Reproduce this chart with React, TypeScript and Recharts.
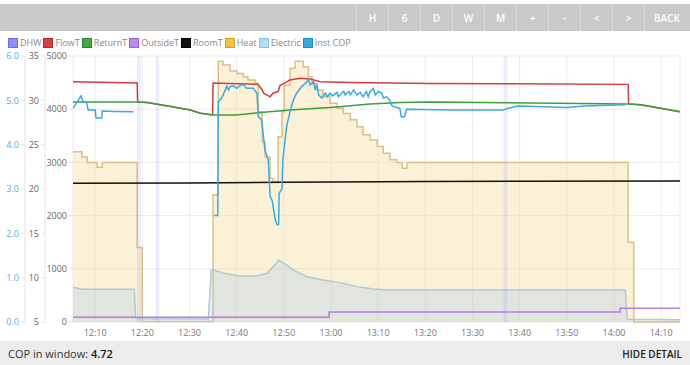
import {
  ComposedChart, Line, Area, XAxis, YAxis, CartesianGrid, ReferenceArea,
} from 'recharts';

// time is minutes after 12:00
const HEAT: [number, number][] = [
  [5.3, 3200], [7.2, 3100], [8.3, 3000], [10.4, 2910], [11.5, 3000], [18.9, 1400], [20.0, 10],
  [35.0, 2390], [36.1, 4900], [37.1, 4830], [38.6, 4720], [40.1, 4670], [41.4, 4610], [42.4, 4550],
  [43.9, 4490], [44.6, 3950], [45.4, 3390], [46.0, 3100], [47.1, 2700], [47.7, 2640], [48.8, 3480],
  [49.6, 3950], [50.1, 4450], [51.3, 4770], [52.4, 4900], [54.1, 4800], [55.2, 4610], [56.0, 4480],
  [57.1, 4360], [58.3, 4240], [59.8, 4110], [61.3, 4020], [62.6, 3920], [64.1, 3800], [65.5, 3670],
  [66.8, 3520], [68.3, 3420], [69.8, 3300], [71.1, 3170], [72.5, 3050], [74.0, 3000], [75.1, 2890],
  [76.1, 3000], [123.0, 1500], [124.2, 0], [134, 0],
];

const ELECTRIC: [number, number][] = [
  [5.3, 650], [7.4, 615], [18.3, 615], [18.6, 75], [20, 60], [34.0, 55], [34.6, 980], [35.4, 975],
  [37.2, 915], [40.7, 865], [44.3, 865], [46.4, 915], [48.0, 1060], [48.9, 1165], [50.6, 1070],
  [52.0, 980], [54.9, 850], [58.4, 790], [61.9, 740], [65.5, 665], [69.0, 620], [72.5, 600],
  [122.4, 600], [122.8, 50], [134, 40],
];

const COP: [number, number | null][] = [
  [5.3, 4.82], [7.0, 5.1], [7.4, 4.97], [8.2, 4.95], [8.5, 4.78], [10.0, 4.78], [10.2, 4.6], [11.4, 4.6],
  [11.5, 4.76], [14, 4.75], [18.1, 4.74], [18.5, null],
  [35.2, 2.4], [36.0, 2.4], [36.1, 4.97], [36.8, 5.05], [37.6, 5.23], [37.9, 5.32], [38.3, 5.23],
  [38.6, 5.31], [39.3, 5.33], [40.0, 5.27], [40.7, 5.33], [41.4, 5.36], [42.1, 5.27], [43.5, 5.27],
  [44.3, 5.16], [44.6, 4.63], [45.3, 4.56], [46.0, 3.88], [46.7, 3.65], [47.1, 2.83], [47.5, 2.75],
  [48.2, 2.3], [48.6, 2.19], [48.9, 2.2], [49.0, 2.9], [49.6, 3.0], [49.8, 3.65], [50.1, 3.95],
  [50.6, 4.41], [51.3, 4.74], [52.0, 5.0], [52.7, 5.16], [53.8, 5.31], [54.9, 5.42], [55.2, 5.47],
  [55.6, 5.35], [56.3, 5.42], [56.7, 5.23], [57.0, 5.35], [57.4, 5.12], [58.1, 5.05], [58.8, 5.16],
  [59.2, 5.08], [59.8, 5.16], [60.3, 5.1], [61.3, 5.18], [61.6, 5.08], [62.4, 5.18], [62.7, 5.2],
  [63.0, 5.12], [63.8, 5.2], [64.1, 5.12], [64.8, 5.23], [65.5, 5.12], [66.2, 5.18], [66.8, 5.08],
  [67.5, 5.2], [67.9, 5.08], [68.3, 5.2], [69.0, 5.27], [69.4, 5.12], [70.1, 5.2], [70.8, 5.16],
  [71.1, 5.05], [71.8, 5.08], [72.5, 5.0], [72.8, 4.9], [73.2, 4.86], [74.6, 4.82], [74.9, 4.63],
  [75.6, 4.63], [76.0, 4.8], [86, 4.78], [96.5, 4.78], [97.5, 4.82], [99.7, 4.87], [110, 4.84],
  [113.6, 4.87], [122.4, 4.9],
];

const FLOW_T: [number, number][] = [
  [5.3, 32.1], [18.9, 31.95], [19.0, 29.8], [21, 29.75], [26, 29.3], [30.2, 28.9], [32.3, 28.55],
  [34.9, 28.35], [35.0, 31.95], [44.5, 31.8], [45.4, 31.2], [45.7, 30.8], [47.1, 30.4], [47.7, 30.8],
  [48.8, 31.0], [49.2, 31.7], [49.9, 31.85], [51.3, 32.3], [53.5, 32.5], [55.6, 32.4], [57.7, 32.1],
  [64.1, 32.0], [81, 31.9], [123, 31.8], [123.1, 29.6], [125.6, 29.5], [129.9, 29.1], [134, 28.7],
];

const RETURN_T: [number, number][] = [
  [5.3, 29.8], [19, 29.8], [21, 29.75], [26, 29.3], [30.2, 28.9], [32.3, 28.55], [35, 28.35],
  [40, 28.35], [44.5, 28.6], [51.3, 28.9], [59.8, 29.2], [68.3, 29.6], [74.6, 29.75], [81, 29.8],
  [123, 29.6], [125.6, 29.5], [129.9, 29.1], [134, 28.7],
];

const ROOM_T: [number, number][] = [[5.3, 20.65], [30, 20.68], [50, 20.75], [80, 20.85], [134, 20.9]];

const OUTSIDE_T: [number, number][] = [[5.3, 5.53], [59.6, 6.13], [121.3, 6.55], [134, 6.55]];

const DHW_RUNS: [number, number][] = [[18.9, 19.7], [22.8, 23.6], [96.6, 97.4]];

const X_TICKS = [10, 20, 30, 40, 50, 60, 70, 80, 90, 100, 110, 120, 130];
const COP_TICKS = [0, 1, 2, 3, 4, 5, 6];
const TEMP_TICKS = [5, 10, 15, 20, 25, 30, 35];
const POWER_TICKS = [0, 1000, 2000, 3000, 4000, 5000];

const BUTTONS = ['H', '6', 'D', 'W', 'M', '+', '-', '<', '>', 'BACK'];

const LEGEND = [
  { name: 'DHW', fill: '#8f8ff5', border: '#6d6de0' },
  { name: 'FlowT', fill: '#d84040', border: '#b02a2a' },
  { name: 'ReturnT', fill: '#44a844', border: '#2e842e' },
  { name: 'OutsideT', fill: '#c08af0', border: '#9a62d0' },
  { name: 'RoomT', fill: '#111111', border: '#000000' },
  { name: 'Heat', fill: '#f2c440', border: '#d0a020' },
  { name: 'Electric', fill: '#b4dcf4', border: '#8cc0e0' },
  { name: 'Inst COP', fill: '#3aa8e0', border: '#2088c0' },
];

const rows = (pairs: [number, number | null][]) => pairs.map(([t, v]) => ({ t, v }));

const fmtTime = (t: number) => {
  const h = 12 + Math.floor(t / 60);
  const m = Math.round(t % 60);
  return `${h}:${m < 10 ? '0' : ''}${m}`;
};

const FONT = '"Open Sans", sans-serif';

export default function App() {
  return (
    <div style={{ position: 'relative', width: 690, height: 365, background: '#fff', fontFamily: FONT, overflow: 'hidden' }}>
      <style>{'body{margin:0}'}</style>

      {/* top button bar */}
      <div style={{ position: 'absolute', top: 4, left: 0, width: 690, height: 27, background: '#c9c9c9' }}>
        <div style={{ position: 'absolute', left: 356, top: 0, display: 'flex', height: 27 }}>
          {BUTTONS.map((b) => (
            <div
              key={b}
              style={{
                width: b === 'BACK' ? 45 : 32, height: 27, borderLeft: '1px solid #dadada', boxSizing: 'border-box',
                color: '#fff', fontSize: 10, fontWeight: 600, display: 'flex', alignItems: 'center', justifyContent: 'center',
              }}
            >
              {b}
            </div>
          ))}
        </div>
      </div>

      {/* legend */}
      <div style={{ position: 'absolute', top: 36, left: 8, height: 13, display: 'flex', alignItems: 'center', fontSize: 9, lineHeight: '13px', color: '#888' }}>
        {LEGEND.map((l) => (
          <div key={l.name} style={{ display: 'flex', alignItems: 'center', marginRight: 2 }}>
            <span style={{ width: 8, height: 8, background: l.fill, border: `1px solid ${l.border}`, marginRight: 2, display: 'inline-block' }} />
            <span>{l.name}</span>
          </div>
        ))}
      </div>

      <div style={{ position: 'absolute', top: 48, left: 0 }}>
        <ComposedChart width={690} height={292} margin={{ top: 8, right: 10, left: 5, bottom: 0 }} style={{ fontFamily: FONT }}>
          <CartesianGrid yAxisId="a-power" stroke="#ececec" />
          <XAxis
            type="number" dataKey="t" domain={[5.3, 134]} ticks={X_TICKS} allowDataOverflow
            tickFormatter={fmtTime} height={18} tickLine={false} axisLine={false}
            tick={{ fontSize: 9, fill: '#777' }}
          />
          <YAxis
            yAxisId="a-power" orientation="left" width={28} domain={[0, 5000]} ticks={POWER_TICKS}
            axisLine={false} tickSize={4} tickLine={{ stroke: '#e4e4e4' }} tick={{ fontSize: 9, fill: '#666' }}
          />
          <YAxis
            yAxisId="b-temp" orientation="left" width={20} domain={[5, 35]} ticks={TEMP_TICKS}
            axisLine={{ stroke: '#e4e4e4' }} tickSize={4} tickLine={{ stroke: '#e4e4e4' }} tick={{ fontSize: 9, fill: '#666' }}
          />
          <YAxis
            yAxisId="c-cop" orientation="left" width={20} domain={[0, 6]} ticks={COP_TICKS}
            tickFormatter={(v: number) => v.toFixed(1)}
            axisLine={{ stroke: '#e4e4e4' }} tickSize={4} tickLine={{ stroke: '#e4e4e4' }} tick={{ fontSize: 9, fill: '#4fb0e2' }}
          />

          <Area
            data={rows(HEAT)} dataKey="v" yAxisId="a-power" type="stepAfter"
            stroke="#d8c08a" strokeWidth={1.5} fill="#f5dc9a" fillOpacity={0.4} isAnimationActive={false}
          />
          <Area
            data={rows(ELECTRIC)} dataKey="v" yAxisId="a-power" type="linear"
            stroke="#b2c9d2" strokeWidth={1.5} fill="#a4c9ec" fillOpacity={0.3} isAnimationActive={false}
          />
          {DHW_RUNS.map(([a, b], i) => (
            <ReferenceArea key={i} x1={a} x2={b} yAxisId="a-power" fill="#8080ff" fillOpacity={0.15} stroke="none" />
          ))}
          <Line data={rows(FLOW_T)} dataKey="v" yAxisId="b-temp" type="linear" stroke="#d23c3c" strokeWidth={1.5} dot={false} isAnimationActive={false} />
          <Line data={rows(RETURN_T)} dataKey="v" yAxisId="b-temp" type="linear" stroke="#3e9e3e" strokeWidth={1.5} dot={false} isAnimationActive={false} />
          <Line data={rows(ROOM_T)} dataKey="v" yAxisId="b-temp" type="linear" stroke="#111" strokeWidth={1.5} dot={false} isAnimationActive={false} />
          <Line data={rows(OUTSIDE_T)} dataKey="v" yAxisId="b-temp" type="stepAfter" stroke="#b77be8" strokeWidth={1.5} dot={false} isAnimationActive={false} />
          <Line data={rows(COP)} dataKey="v" yAxisId="c-cop" type="linear" stroke="#3aa9de" strokeWidth={1.5} dot={false} isAnimationActive={false} />
        </ComposedChart>
      </div>

      {/* footer */}
      <div style={{ position: 'absolute', top: 341, left: 0, width: 690, height: 24, background: '#ececec', fontSize: 11, color: '#333' }}>
        <div style={{ position: 'absolute', left: 8, top: 5 }}>
          COP in window: <b style={{ fontWeight: 600, color: '#111' }}>4.72</b>
        </div>
        <div style={{ position: 'absolute', right: 8, top: 6, fontSize: 10, fontWeight: 600, color: '#222' }}>HIDE DETAIL</div>
      </div>
    </div>
  );
}
